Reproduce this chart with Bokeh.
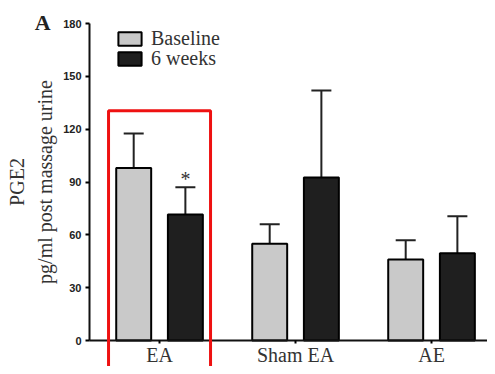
from bokeh.plotting import figure
from bokeh.models import (Range1d, FixedTicker, Whisker, TeeHead, ColumnDataSource,
                          BoxAnnotation, Label, Legend, LegendItem, LinearAxis)
from bokeh.embed import file_html
from bokeh.resources import INLINE

# ---- data ----
groups = ["EA", "Sham EA", "AE"]
baseline = [98, 55, 46]
baseline_err_top = [117.5, 66, 57]
weeks6 = [71.5, 92.5, 49.5]
weeks6_err_top = [87, 142, 70.5]
series_names = ["Baseline", "6 weeks"]
y_ticks = [0, 30, 60, 90, 120, 150, 180]
y_max = 180
highlight_group = "EA"
highlight_top = 130.5
significant = [(1, "EA")]  # (series index, group)

SERIF = "Liberation Serif"
SANS = "Liberation Sans"
GRAY = "#c9c9c9"
DARK = "#1f1f1f"

# ---- layout ----
# the whole canvas is the frame so that the panel letter and highlight box are not clipped
X_LO, X_HI = -0.6694, 2.9115
Y_LO, Y_HI = -14.76, 193.07
axis_x = -0.015  # where the y axis sits

idx = list(range(len(groups)))
centers = [i + 0.5 for i in idx]
off = 0.19
bw = 0.257

p = figure(frame_width=487, frame_height=366, output_backend="svg", toolbar_location=None,
           x_range=Range1d(X_LO, X_HI), y_range=Range1d(Y_LO, Y_HI),
           x_axis_location=None, y_axis_location=None, min_border=0)
p.outline_line_color = None
p.grid.visible = False
p.background_fill_color = "white"
p.border_fill_color = "white"

src_b = ColumnDataSource(dict(x=[c - off for c in centers], top=baseline, hi=baseline_err_top))
src_w = ColumnDataSource(dict(x=[c + off for c in centers], top=weeks6, hi=weeks6_err_top))

for src in (src_b, src_w):
    w = Whisker(source=src, base="x", lower="top", upper="hi", dimension="height",
                line_color="#222222", line_width=2, lower_head=None,
                upper_head=TeeHead(size=20, line_color="#222222", line_width=2), level="underlay")
    p.add_layout(w)

r1 = p.vbar(x="x", top="top", width=bw, bottom=0, source=src_b, fill_color=GRAY,
            line_color="black", line_width=2)
r2 = p.vbar(x="x", top="top", width=bw, bottom=0, source=src_w, fill_color=DARK,
            line_color="black", line_width=2)

# significance marker
for si, g in significant:
    gi = groups.index(g)
    xs = centers[gi] + (off if si == 1 else -off)
    hi = (weeks6_err_top if si == 1 else baseline_err_top)[gi]
    p.add_layout(Label(x=xs, y=hi + 4.6, text="*", text_align="center", text_baseline="middle",
                       text_font=SERIF, text_font_size="20px", text_color="#333333"))

# highlight box
hg = groups.index(highlight_group)
p.add_layout(BoxAnnotation(left=centers[hg] - 0.375, right=centers[hg] + 0.375,
                           top=highlight_top, bottom=Y_LO - 10, fill_alpha=0,
                           line_color="#ee1111", line_alpha=1.0, line_width=3, level="overlay"))

# panel letter
p.add_layout(Label(x=-0.36, y=y_max + 0.6, text="A", text_align="center", text_baseline="middle",
                   text_font=SERIF, text_font_size="22px", text_font_style="bold",
                   text_color="#222222"))

# axes
xa = LinearAxis(fixed_location=0, bounds=(axis_x, X_HI))
xa.ticker = FixedTicker(ticks=centers)
xa.major_label_overrides = {c: g for c, g in zip(centers, groups)}
xa.minor_tick_line_color = None
xa.major_tick_out = 3
xa.major_tick_in = 0
xa.major_tick_line_width = 2
xa.axis_line_width = 2
xa.axis_line_color = "#111111"
xa.major_label_text_font = SERIF
xa.major_label_text_font_size = "20px"
xa.major_label_text_color = "#333333"
xa.major_label_standoff = 0
p.add_layout(xa, "below")

ya = LinearAxis(fixed_location=axis_x, bounds=(0, y_max))
ya.ticker = FixedTicker(ticks=y_ticks)
ya.minor_tick_line_color = None
ya.major_tick_out = 4
ya.major_tick_in = 0
ya.major_tick_line_width = 2
ya.axis_line_width = 2
ya.axis_line_color = "#111111"
ya.major_label_text_font = SANS
ya.major_label_text_font_size = "11px"
ya.major_label_text_font_style = "bold"
ya.major_label_text_color = "#222222"
ya.major_label_standoff = 4
ya.axis_label = "PGE2\npg/ml post massage urine"
ya.axis_label_text_font = SERIF
ya.axis_label_text_font_size = "20px"
ya.axis_label_text_font_style = "normal"
ya.axis_label_text_color = "#333333"
ya.axis_label_text_line_height = 1.3
ya.axis_label_standoff = 4
p.add_layout(ya, "left")

legend_style = dict(padding=0, spacing=0, margin=0, glyph_width=29, glyph_height=17,
                    label_height=18, label_standoff=7, label_text_font=SERIF,
                    label_text_font_size="20px", label_text_color="#333333",
                    border_line_color=None, background_fill_alpha=0)
legend_locations = [(115, 316), (115, 296)]
for name, rend, loc in zip(series_names, [r1, r2], legend_locations):
    p.add_layout(Legend(items=[LegendItem(label=name, renderers=[rend])], location=loc,
                        **legend_style))

open("out.html", "w").write(file_html(p, INLINE))
